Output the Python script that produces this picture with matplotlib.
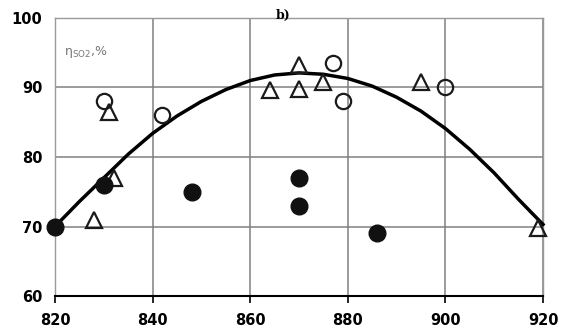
import numpy as np
import matplotlib
matplotlib.use("Agg")
from matplotlib import pyplot as plt

# open circles
circ_x = [830, 842, 877, 879, 900]
circ_y = [88, 86, 93.5, 88, 90]
# open triangles
tri_x = [828, 831, 832, 864, 870, 870, 875, 895, 919]
tri_y = [71, 86.5, 77, 89.6, 93.2, 89.8, 90.8, 90.8, 69.8]
# filled circles
dot_x = [820, 830, 848, 870, 870, 886]
dot_y = [70, 76, 75, 77, 73, 69]
# trend curve
curve_x = [820, 825, 830, 835, 840, 845, 850, 855, 860, 865, 870, 875, 880, 885, 890, 895, 900, 905, 910, 915, 920]
curve_y = [70, 73.6, 77.0, 80.4, 83.4, 85.9, 88.0, 89.7, 91.0, 91.8, 92.1, 91.9, 91.3, 90.2, 88.6, 86.6, 84.1, 81.1, 77.7, 73.9, 70.3]

xticks = [820, 840, 860, 880, 900, 920]
yticks = [60, 70, 80, 90, 100]

fig = plt.figure(figsize=(5.63, 3.33), dpi=100)
ax = fig.add_axes([0.0977, 0.111, 0.8668, 0.835])

ax.set_xlim(820, 920)
ax.set_ylim(60, 100)
ax.set_xticks(xticks)
ax.set_yticks(yticks)
ax.grid(True, color="#808080", linewidth=1.1)
ax.set_axisbelow(True)

for s in ["top", "right", "left"]:
    ax.spines[s].set_color("#999999")
    ax.spines[s].set_linewidth(1.0)
ax.spines["bottom"].set_color("black")
ax.spines["bottom"].set_linewidth(1.5)

ax.tick_params(axis="x", length=5, width=1.2, pad=7, labelsize=10.5)
ax.tick_params(axis="y", length=0, pad=9, labelsize=10.5)
for lab in ax.get_xticklabels() + ax.get_yticklabels():
    lab.set_fontweight("bold")

ax.plot(curve_x, curve_y, color="black", linewidth=2.5, zorder=3, clip_on=False)

ax.plot(circ_x, circ_y, linestyle="none", marker="o", markersize=11,
        markerfacecolor="none", markeredgecolor="#1a1a1a", markeredgewidth=1.6,
        zorder=4, clip_on=False)
ax.plot(tri_x, tri_y, linestyle="none", marker="^", markersize=12,
        markerfacecolor="none", markeredgecolor="#1a1a1a", markeredgewidth=1.6,
        zorder=4, clip_on=False)
ax.plot(dot_x, dot_y, linestyle="none", marker="o", markersize=12,
        color="#111111", zorder=5, clip_on=False)

ax.text(0.018, 0.878, r"$\mathrm{\eta_{SO2}}$,%", transform=ax.transAxes,
        fontsize=9, color="#777777", va="center")
fig.text(0.503, 0.953, "b)", fontsize=9, fontweight="bold",
         family="DejaVu Serif", ha="center", va="center")

fig.savefig("out.png", dpi=100)
